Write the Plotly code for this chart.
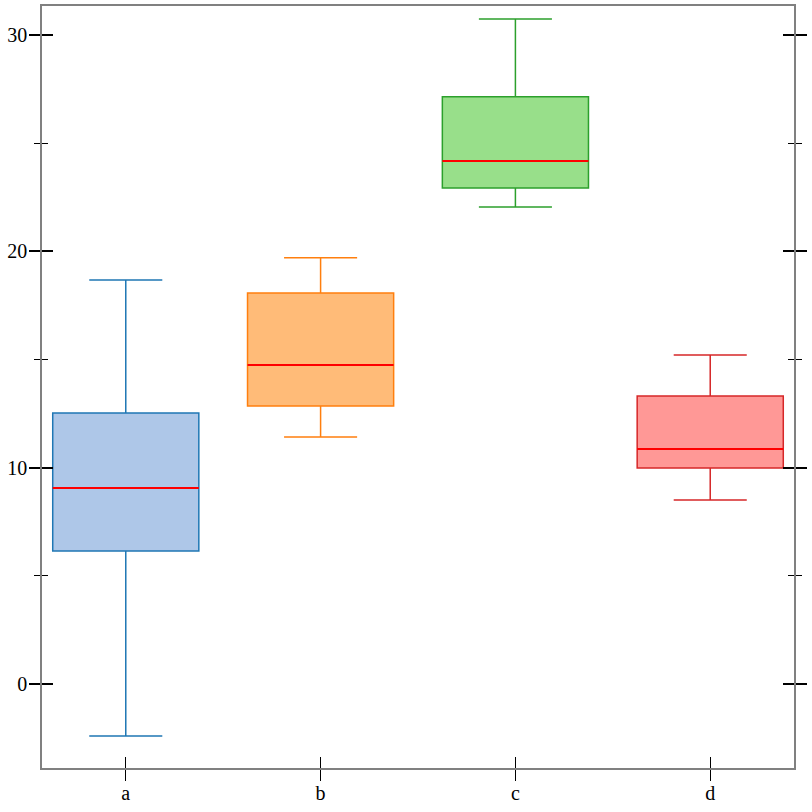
import plotly.graph_objects as go

categories = ["a", "b", "c", "d"]
lower = [-2.40, 11.42, 22.05, 8.51]
q1 = [6.15, 12.85, 22.93, 9.99]
median = [9.06, 14.75, 24.18, 10.86]
q3 = [12.53, 18.08, 27.14, 13.31]
upper = [18.68, 19.70, 30.74, 15.21]

edge_colors = ["#1f77b4", "#ff7f0e", "#2ca02c", "#d62728"]
fill_colors = ["#aec7e8", "#ffbb78", "#98df8a", "#ff9896"]

BOX_W = 0.75
fig = go.Figure()
for i, c in enumerate(categories):
    fig.add_trace(go.Box(
        x=[i], q1=[q1[i]], median=[median[i]], q3=[q3[i]],
        lowerfence=[lower[i]], upperfence=[upper[i]],
        width=BOX_W, whiskerwidth=0.5,
        fillcolor=fill_colors[i], line=dict(color=edge_colors[i], width=1.5),
        boxpoints=False, showlegend=False, name=c, hoverinfo="skip",
    ))
    fig.add_shape(type="line", xref="x", yref="y", layer="above",
                  x0=i - BOX_W / 2, x1=i + BOX_W / 2, y0=median[i], y1=median[i],
                  line=dict(color="#ff0000", width=2))

# invisible trace to anchor the overlay axes
fig.add_trace(go.Scatter(x=[0], y=[0], xaxis="x2", yaxis="y2", mode="markers",
                         marker=dict(opacity=0), showlegend=False, hoverinfo="skip"))

font = dict(family="Liberation Serif, Times New Roman, serif", size=20, color="black")
yr = [-3.88, 31.34]
xr = [-0.43, 3.43]
fig.update_layout(
    width=812, height=812,
    margin=dict(l=42, r=18, t=6, b=44),
    plot_bgcolor="white", paper_bgcolor="white",
    font=font,
    xaxis=dict(range=xr, tickvals=list(range(len(categories))), ticktext=categories,
               ticks="outside", ticklen=11, tickwidth=1, tickcolor="black",
               showline=True, linecolor="#808080", linewidth=1.5, mirror=True,
               showgrid=False, zeroline=False, tickfont=font, automargin=False,
               ticklabelstandoff=-5),
    yaxis=dict(range=yr, tickvals=[0, 10, 20, 30],
               ticks="outside", ticklen=11, tickwidth=1.5, tickcolor="black",
               showline=True, linecolor="#808080", linewidth=1.5, mirror="ticks",
               showgrid=False, zeroline=False, tickfont=font, automargin=False,
               ticklabelstandoff=-2,
               minor=dict(tickvals=[5, 15, 25], ticks="outside", ticklen=6,
                          tickwidth=1, tickcolor="black", showgrid=False)),
    xaxis2=dict(range=xr, overlaying="x", anchor="y2", side="bottom",
                tickvals=list(range(len(categories))), ticks="inside", ticklen=11,
                tickwidth=1, tickcolor="black", showticklabels=False,
                showline=False, showgrid=False, zeroline=False, automargin=False),
    yaxis2=dict(range=yr, overlaying="y", anchor="x2", side="left",
                tickvals=[0, 10, 20, 30], ticks="inside", ticklen=11, tickwidth=1.5,
                tickcolor="black", showticklabels=False, mirror="ticks",
                showline=False, showgrid=False, zeroline=False, automargin=False,
                minor=dict(tickvals=[5, 15, 25], ticks="inside", ticklen=6,
                           tickwidth=1, tickcolor="black", showgrid=False)),
)

fig.write_html("out.html")
